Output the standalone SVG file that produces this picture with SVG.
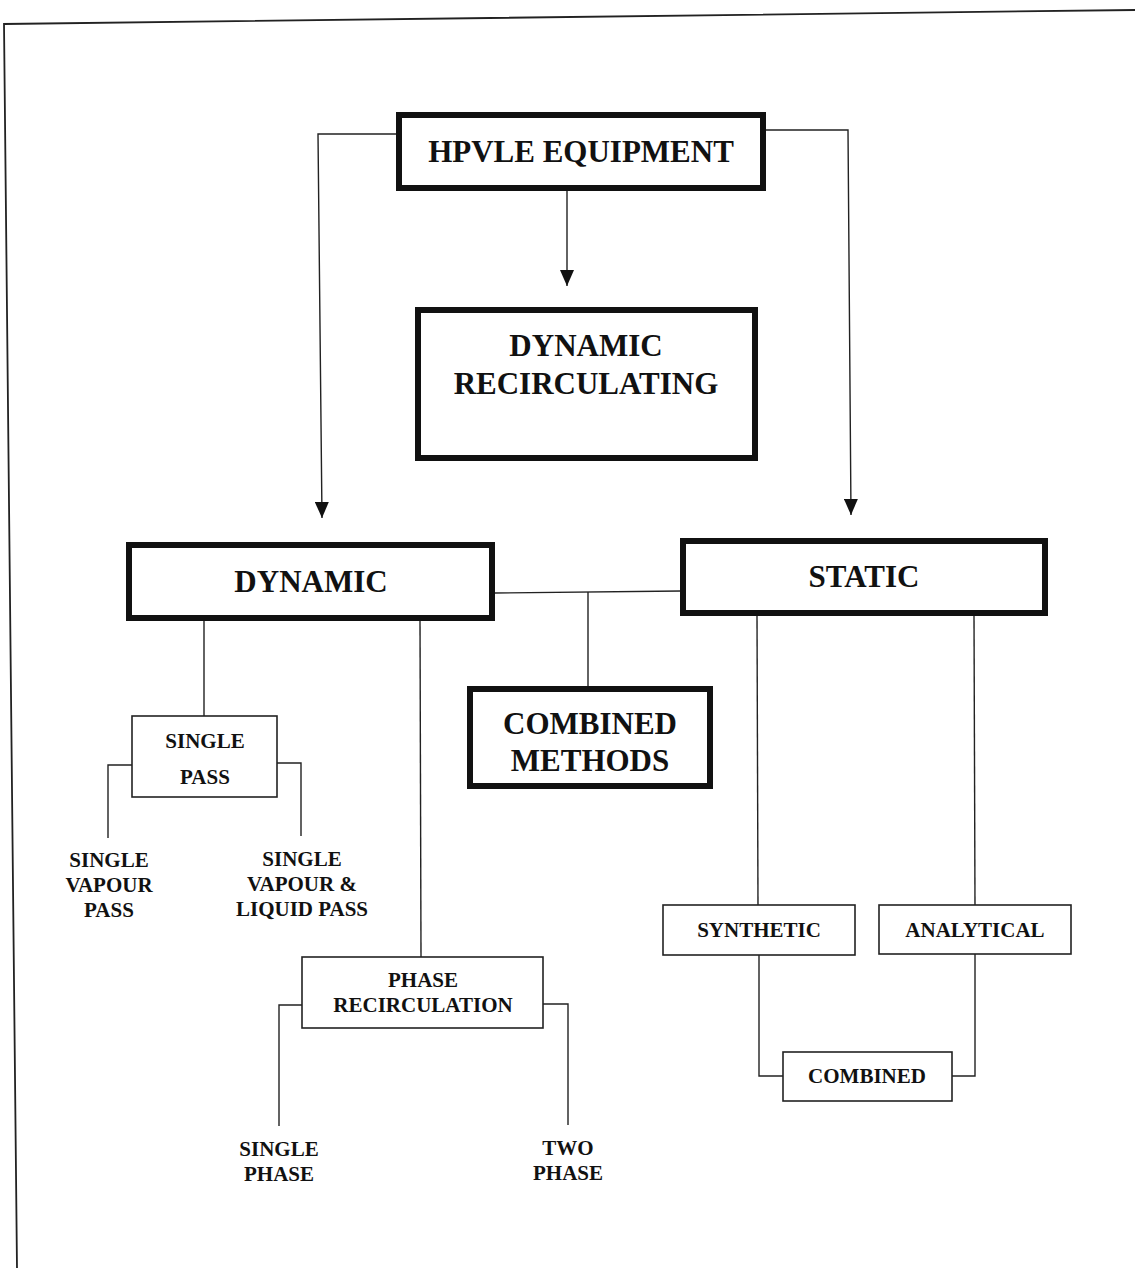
<svg xmlns="http://www.w3.org/2000/svg" width="1135" height="1268" viewBox="0 0 1135 1268">
<style>
.thick{fill:#fff;stroke:#111;stroke-width:6}
.thin{fill:#fff;stroke:#222;stroke-width:1.6}
.big{font-family:"Liberation Serif","Times New Roman",serif;font-weight:bold;font-size:31px;fill:#111;text-anchor:middle}
.small{font-family:"Liberation Serif","Times New Roman",serif;font-weight:bold;font-size:21px;fill:#111;text-anchor:middle}
.conn{fill:none;stroke:#222;stroke-width:1.4}
</style>
<defs>
<marker id="arr" markerWidth="16" markerHeight="14" refX="16" refY="7" orient="auto" markerUnits="userSpaceOnUse" viewBox="0 0 16 14">
<path d="M0,0 L16,7 L0,14 Z" fill="#111"/>
</marker>
</defs>
<rect width="1135" height="1268" fill="#fff"/>
<g id="frame">
<path d="M1135,10 L4,24 L17,1268" fill="none" stroke="#222" stroke-width="1.8"/>
</g>
<g id="connectors">
<path class="conn" d="M399,134 L318,134 L322,518" marker-end="url(#arr)"/>
<path class="conn" d="M763,130 L848,130 L851,515" marker-end="url(#arr)"/>
<path class="conn" d="M567,190 L567,286" marker-end="url(#arr)"/>
<path class="conn" d="M494,593 L681,591"/>
<path class="conn" d="M588,592 L588,687"/>
<path class="conn" d="M204,620 L204,716"/>
<path class="conn" d="M420,620 L421,957"/>
<path class="conn" d="M132,765 L108,765 L108,838"/>
<path class="conn" d="M277,763 L301,763 L301,836"/>
<path class="conn" d="M302,1005 L279,1005 L279,1126"/>
<path class="conn" d="M543,1004 L568,1004 L568,1125"/>
<path class="conn" d="M757,615 L758,905"/>
<path class="conn" d="M974,615 L975,905"/>
<path class="conn" d="M759,955 L759,1076 L783,1076"/>
<path class="conn" d="M975,954 L975,1076 L952,1076"/>
</g>
<g id="hpvle">
<rect class="thick" x="399" y="115" width="364" height="73"/>
<text class="big" x="581" y="162">HPVLE EQUIPMENT</text>
</g>
<g id="dynrecirc">
<rect class="thick" x="418" y="310" width="337" height="148"/>
<text class="big" x="586" y="356">DYNAMIC</text>
<text class="big" x="586" y="394">RECIRCULATING</text>
</g>
<g id="dynamic">
<rect class="thick" x="129" y="545" width="363" height="73"/>
<text class="big" x="311" y="592">DYNAMIC</text>
</g>
<g id="static">
<rect class="thick" x="683" y="541" width="362" height="72"/>
<text class="big" x="864" y="587">STATIC</text>
</g>
<g id="combinedmethods">
<rect class="thick" x="470" y="689" width="240" height="97"/>
<text class="big" x="590" y="734">COMBINED</text>
<text class="big" x="590" y="771">METHODS</text>
</g>
<g id="singlepass">
<rect class="thin" x="132" y="716" width="145" height="81"/>
<text class="small" x="205" y="748">SINGLE</text>
<text class="small" x="205" y="784">PASS</text>
</g>
<g id="svp">
<text class="small" x="109" y="867">SINGLE</text>
<text class="small" x="109" y="892">VAPOUR</text>
<text class="small" x="109" y="917">PASS</text>
</g>
<g id="svlp">
<text class="small" x="302" y="866">SINGLE</text>
<text class="small" x="302" y="891">VAPOUR &amp;</text>
<text class="small" x="302" y="916">LIQUID PASS</text>
</g>
<g id="phaserecirc">
<rect class="thin" x="302" y="957" width="241" height="71"/>
<text class="small" x="423" y="987">PHASE</text>
<text class="small" x="423" y="1012">RECIRCULATION</text>
</g>
<g id="singlephase">
<text class="small" x="279" y="1156">SINGLE</text>
<text class="small" x="279" y="1181">PHASE</text>
</g>
<g id="twophase">
<text class="small" x="568" y="1155">TWO</text>
<text class="small" x="568" y="1180">PHASE</text>
</g>
<g id="synthetic">
<rect class="thin" x="663" y="905" width="192" height="50"/>
<text class="small" x="759" y="937">SYNTHETIC</text>
</g>
<g id="analytical">
<rect class="thin" x="879" y="905" width="192" height="49"/>
<text class="small" x="975" y="937">ANALYTICAL</text>
</g>
<g id="combined">
<rect class="thin" x="783" y="1052" width="169" height="49"/>
<text class="small" x="867" y="1083">COMBINED</text>
</g>
</svg>
